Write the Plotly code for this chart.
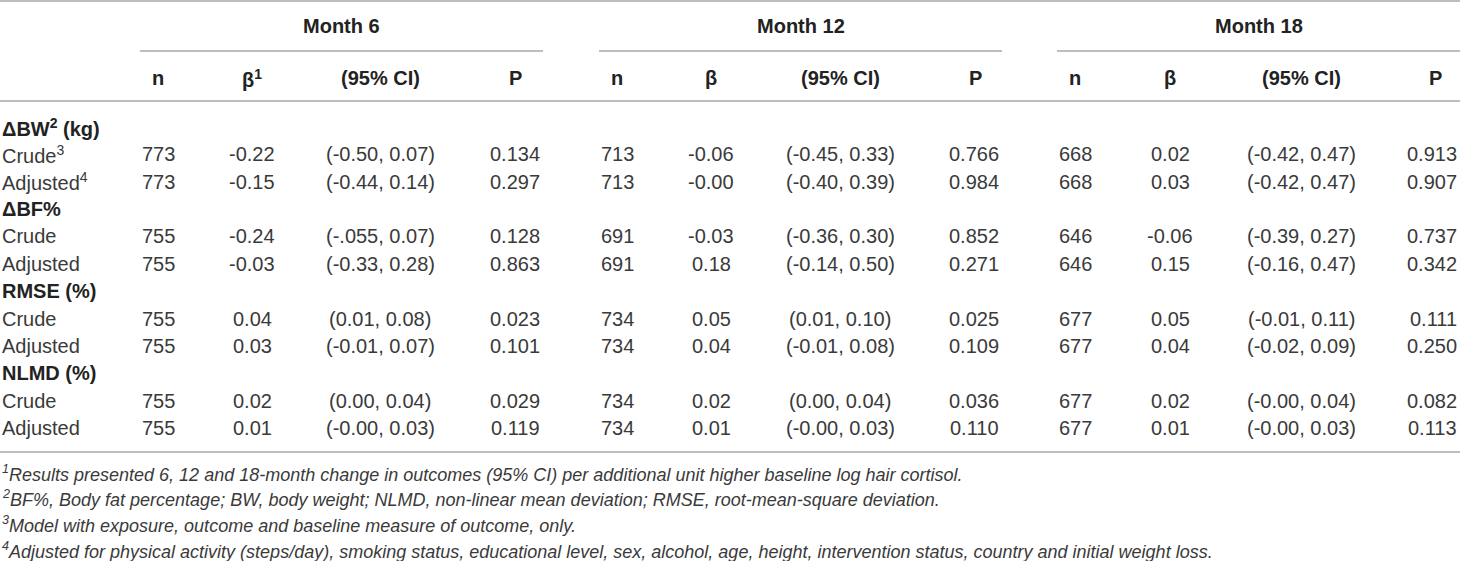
import plotly.graph_objects as go

# Table content
groups = ["Month 6", "Month 12", "Month 18"]
col_heads = [["n", "β<sup>1</sup>", "(95% CI)", "P"],
             ["n", "β", "(95% CI)", "P"],
             ["n", "β", "(95% CI)", "P"]]

sections = ["ΔBW<sup>2</sup> (kg)", "ΔBF%", "RMSE (%)", "NLMD (%)"]
row_labels = [["Crude<sup>3</sup>", "Adjusted<sup>4</sup>"],
              ["Crude", "Adjusted"],
              ["Crude", "Adjusted"],
              ["Crude", "Adjusted"]]

n_m6 = ["773", "773", "755", "755", "755", "755", "755", "755"]
beta_m6 = ["-0.22", "-0.15", "-0.24", "-0.03", "0.04", "0.03", "0.02", "0.01"]
ci_m6 = ["(-0.50, 0.07)", "(-0.44, 0.14)", "(-.055, 0.07)", "(-0.33, 0.28)",
         "(0.01, 0.08)", "(-0.01, 0.07)", "(0.00, 0.04)", "(-0.00, 0.03)"]
p_m6 = ["0.134", "0.297", "0.128", "0.863", "0.023", "0.101", "0.029", "0.119"]

n_m12 = ["713", "713", "691", "691", "734", "734", "734", "734"]
beta_m12 = ["-0.06", "-0.00", "-0.03", "0.18", "0.05", "0.04", "0.02", "0.01"]
ci_m12 = ["(-0.45, 0.33)", "(-0.40, 0.39)", "(-0.36, 0.30)", "(-0.14, 0.50)",
          "(0.01, 0.10)", "(-0.01, 0.08)", "(0.00, 0.04)", "(-0.00, 0.03)"]
p_m12 = ["0.766", "0.984", "0.852", "0.271", "0.025", "0.109", "0.036", "0.110"]

n_m18 = ["668", "668", "646", "646", "677", "677", "677", "677"]
beta_m18 = ["0.02", "0.03", "-0.06", "0.15", "0.05", "0.04", "0.02", "0.01"]
ci_m18 = ["(-0.42, 0.47)", "(-0.42, 0.47)", "(-0.39, 0.27)", "(-0.16, 0.47)",
          "(-0.01, 0.11)", "(-0.02, 0.09)", "(-0.00, 0.04)", "(-0.00, 0.03)"]
p_m18 = ["0.913", "0.907", "0.737", "0.342", "0.111", "0.250", "0.082", "0.113"]

footnotes = [
    "<sup>1</sup>Results presented 6, 12 and 18-month change in outcomes (95% CI) per additional unit higher baseline log hair cortisol.",
    "<sup>2</sup>BF%, Body fat percentage; BW, body weight; NLMD, non-linear mean deviation; RMSE, root-mean-square deviation.",
    "<sup>3</sup>Model with exposure, outcome and baseline measure of outcome, only.",
    "<sup>4</sup>Adjusted for physical activity (steps/day), smoking status, educational level, sex, alcohol, age, height, intervention status, country and initial weight loss.",
]

data = [[n_m6, beta_m6, ci_m6, p_m6],
        [n_m12, beta_m12, ci_m12, p_m12],
        [n_m18, beta_m18, ci_m18, p_m18]]

# layout (pixel coordinates of the 1460x561 page)
W, H = 1460, 561
FONT = "Liberation Sans"
TXT = "#3a3a3a"
LINE = "#a8a8a8"
group_span = [(140, 543), (599, 1002), (1057, 1460)]
col_x = [[158, 252, 380, 515], [617, 711, 840, 975], [1075, 1170, 1301, 1435]]
y_group, y_gline, y_head, y_hline = 26, 51, 78, 101
y_row0, dy = 127, 27.36
y_bline = 452
y_fn0, dy_fn = 473, 25.8

fig = go.Figure()
ann = []


def add(text, x, y, anchor="center", size=20, bold=False, italic=False):
    t = text
    if italic:
        t = "<i>" + t + "</i>"
    ann.append(dict(x=x, y=y, xref="x", yref="y", text=t, showarrow=False,
                    xanchor=anchor, yanchor="middle",
                    font=dict(family=FONT, size=size,
                              color="#222222" if bold else TXT,
                              weight="bold" if bold else "normal")))


# header rows
for g, name in enumerate(groups):
    x0, x1 = group_span[g]
    add(name, (x0 + x1) / 2, y_group, bold=True)
    fig.add_shape(type="line", x0=x0, x1=x1, y0=y_gline, y1=y_gline,
                  line=dict(color=LINE, width=1.5))
    for c, h in enumerate(col_heads[g]):
        add(h, col_x[g][c], y_head, bold=True)

# body rows
r = 0
k = 0
for s, sec in enumerate(sections):
    add(sec, 0, y_row0 + r * dy, anchor="left", bold=True)
    r += 1
    for lab in row_labels[s]:
        y = y_row0 + r * dy
        add(lab, 0, y, anchor="left")
        for g in range(3):
            for c in range(4):
                v = data[g][c][k]
                if c == 3:
                    add(v, group_span[g][1] - 1, y, anchor="right")
                else:
                    add(v, col_x[g][c], y)
        r += 1
        k += 1

for i, fn in enumerate(footnotes):
    add(fn, 0, y_fn0 + i * dy_fn, anchor="left", size=18, italic=True)

for yl in (1, y_hline, y_bline):
    fig.add_shape(type="line", x0=0, x1=W, y0=yl, y1=yl,
                  line=dict(color=LINE, width=1.5))

fig.update_layout(
    width=W, height=H,
    margin=dict(l=0, r=0, t=0, b=0),
    paper_bgcolor="white", plot_bgcolor="white",
    xaxis=dict(range=[0, W], visible=False, fixedrange=True),
    yaxis=dict(range=[H, 0], visible=False, fixedrange=True),
    annotations=ann,
    showlegend=False,
)

# drop the browser's default page margin so the figure fills the window
fig.write_html("out.html", config={"displayModeBar": False},
               post_script="document.body.style.margin='0';")
